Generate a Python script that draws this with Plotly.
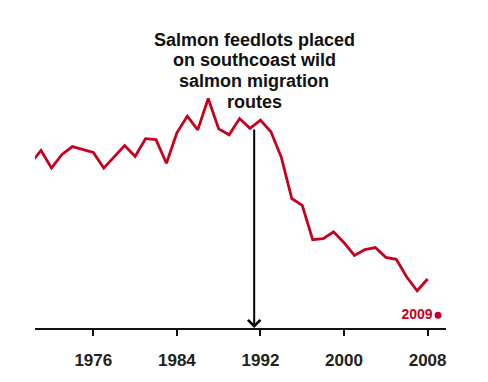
import plotly.graph_objects as go

years = list(range(1970, 2009))
values = [16.8, 18.1, 16.3, 17.7, 18.5, 18.2, 17.9, 16.3, 17.5, 18.6,
          17.5, 19.3, 19.2, 16.8, 19.9, 21.6, 20.2, 23.4, 20.3, 19.7,
          21.35, 20.35, 21.2, 20.0, 17.4, 13.2, 12.5, 9.0, 9.1, 9.8,
          8.7, 7.4, 8.0, 8.2, 7.2, 7.0, 5.2, 3.8, 5.0]
last_year = [2009]
last_value = [1.3]
tick_years = [1976, 1984, 1992, 2000, 2008]
event_year = 1991.4
event_top = 20.4
note_lines = ["Salmon feedlots placed", "on southcoast wild", "salmon migration", "routes"]
note_levels = [29.4, 27.3, 25.17, 23.0]

RED = "#c8001e"

fig = go.Figure()
fig.add_trace(go.Scatter(
    x=years, y=values, mode="lines",
    line=dict(color=RED, width=2.8), hoverinfo="skip", showlegend=False,
))
fig.add_trace(go.Scatter(
    x=last_year, y=last_value, mode="markers+text",
    marker=dict(color=RED, size=7),
    text=["<b>2009</b>"], textposition="middle left",
    textfont=dict(family="Liberation Sans", size=14, color=RED),
    showlegend=False, cliponaxis=False, hoverinfo="skip",
))

fig.add_annotation(
    x=event_year, y=0, ax=event_year, ay=event_top,
    xref="x", yref="y", axref="x", ayref="y",
    text="", showarrow=True, arrowhead=4, arrowsize=1.2,
    arrowwidth=2, arrowcolor="black", standoff=0,
)
for line, level in zip(note_lines, note_levels):
    fig.add_annotation(
        x=event_year, y=level, xref="x", yref="y",
        text="<b>" + line + "</b>", showarrow=False,
        xanchor="center", yanchor="middle", align="center",
        font=dict(family="Liberation Sans", size=18, color="#111111"),
    )

fig.update_layout(
    width=480, height=374,
    margin=dict(l=27, r=42, t=12, b=48),
    paper_bgcolor="white", plot_bgcolor="white",
    xaxis=dict(
        range=[1970.42, 2009.76], tickvals=tick_years,
        ticktext=[f"<b>{y}</b>" for y in tick_years],
        showgrid=False, zeroline=False,
        showline=True, linecolor="#111111", linewidth=2,
        ticks="outside", ticklen=6, tickwidth=2, tickcolor="#111111",
        tickfont=dict(family="Liberation Sans", size=17, color="#222222"),
        ticklabelstandoff=10,
    ),
    yaxis=dict(range=[0, 31.4], visible=False),
)

fig.write_html("out.html", config={"displayModeBar": False})
